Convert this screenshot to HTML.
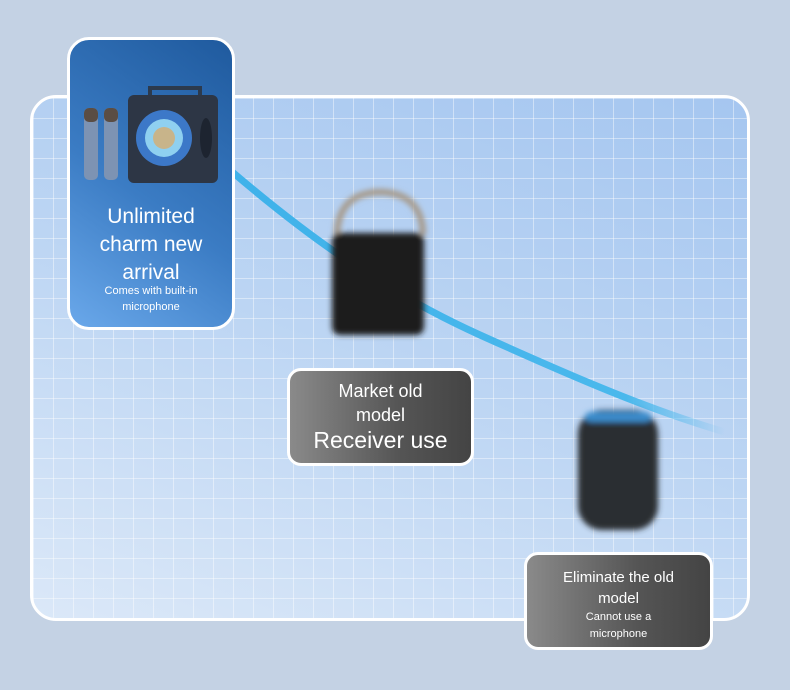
<!DOCTYPE html>
<html><head><meta charset="utf-8"><style>
body{margin:0;width:790px;height:690px;background:#c4d2e4;position:relative;overflow:hidden;font-family:"Liberation Sans","DejaVu Sans",sans-serif}
.panel{position:absolute;left:30px;top:95px;width:714px;height:520px;border:3px solid #fff;border-radius:26px;overflow:hidden;
background:linear-gradient(200deg,#a5c6f0 0%,#bcd5f3 50%,#dbe8f8 100%)}
.grid{position:absolute;inset:0;background-image:linear-gradient(rgba(255,255,255,.42) 1px,transparent 1px),linear-gradient(90deg,rgba(255,255,255,.42) 1px,transparent 1px);background-size:20px 20px}
.blue{position:absolute;left:67px;top:37px;width:162px;height:287px;border:3px solid #fff;border-radius:22px;background:linear-gradient(215deg,#1f5a9e 0%,#3b7cc4 55%,#6aa8ea 100%);color:#fff;text-align:center}
.grey{position:absolute;border:3px solid #fff;border-radius:14px;background:linear-gradient(90deg,#8a8a8a,#555 60%,#444);color:#fff;text-align:center}
</style></head><body>
<div class="panel"><div class="grid"></div></div>
<svg style="position:absolute;left:0;top:0" width="790" height="690">
<defs><linearGradient id="cg" x1="0" x2="1"><stop offset="0" stop-color="#3fb2ea"/><stop offset=".8" stop-color="#4ab8ec"/><stop offset="1" stop-color="#4ab8ec" stop-opacity="0"/></linearGradient>
<filter id="b" x="-20%" y="-20%" width="140%" height="140%"><feGaussianBlur stdDeviation="3"/></filter></defs>
<path d="M230 170 C300 230 380 290 480 335 S650 410 725 432" stroke="url(#cg)" stroke-width="7" fill="none"/>
<g filter="url(#b)">
<path d="M337 235 Q338 193 380 192 Q422 193 423 235" stroke="#a59582" stroke-width="6" fill="none"/>
<rect x="332" y="233" width="92" height="102" rx="8" fill="#1f1f1f"/>
<rect x="578" y="410" width="80" height="120" rx="24" fill="#2a2d33"/>
<rect x="585" y="412" width="66" height="10" rx="5" fill="#3b8ccc"/>
</g>
</svg>
<div class="blue">
<svg width="162" height="150" style="position:absolute;left:0;top:40px">
<rect x="14" y="28" width="14" height="72" rx="5" fill="#7d93b3"/><rect x="14" y="28" width="14" height="14" rx="5" fill="#5a4d44"/>
<rect x="34" y="28" width="14" height="72" rx="5" fill="#7d93b3"/><rect x="34" y="28" width="14" height="14" rx="5" fill="#5a4d44"/>
<path d="M80 20 V8 H130 V20" stroke="#2c3a4d" stroke-width="4" fill="none"/>
<rect x="58" y="15" width="90" height="88" rx="6" fill="#2d3645"/>
<circle cx="94" cy="58" r="28" fill="#3c78c8"/><circle cx="94" cy="58" r="19" fill="#8fd0f0"/><circle cx="94" cy="58" r="11" fill="#c8b48a"/>
<ellipse cx="136" cy="58" rx="6" ry="20" fill="#1d2430"/>
</svg>
<div style="position:absolute;top:163px;width:100%;font-size:21px;line-height:28px">Unlimited<br>charm new<br>arrival</div>
<div style="position:absolute;top:243px;width:100%;font-size:11px;line-height:16px">Comes with built-in<br>microphone</div>
</div>
<div class="grey" style="left:287px;top:368px;width:181px;height:92px">
<div style="margin-top:8px;font-size:18px;line-height:24px">Market old<br>model</div>
<div style="font-size:23px;line-height:26px">Receiver use</div></div>
<div class="grey" style="left:524px;top:552px;width:183px;height:92px">
<div style="margin-top:12px;font-size:15px;line-height:21px">Eliminate the old<br>model</div>
<div style="font-size:11px;line-height:17px">Cannot use a<br>microphone</div></div>
</body></html>
